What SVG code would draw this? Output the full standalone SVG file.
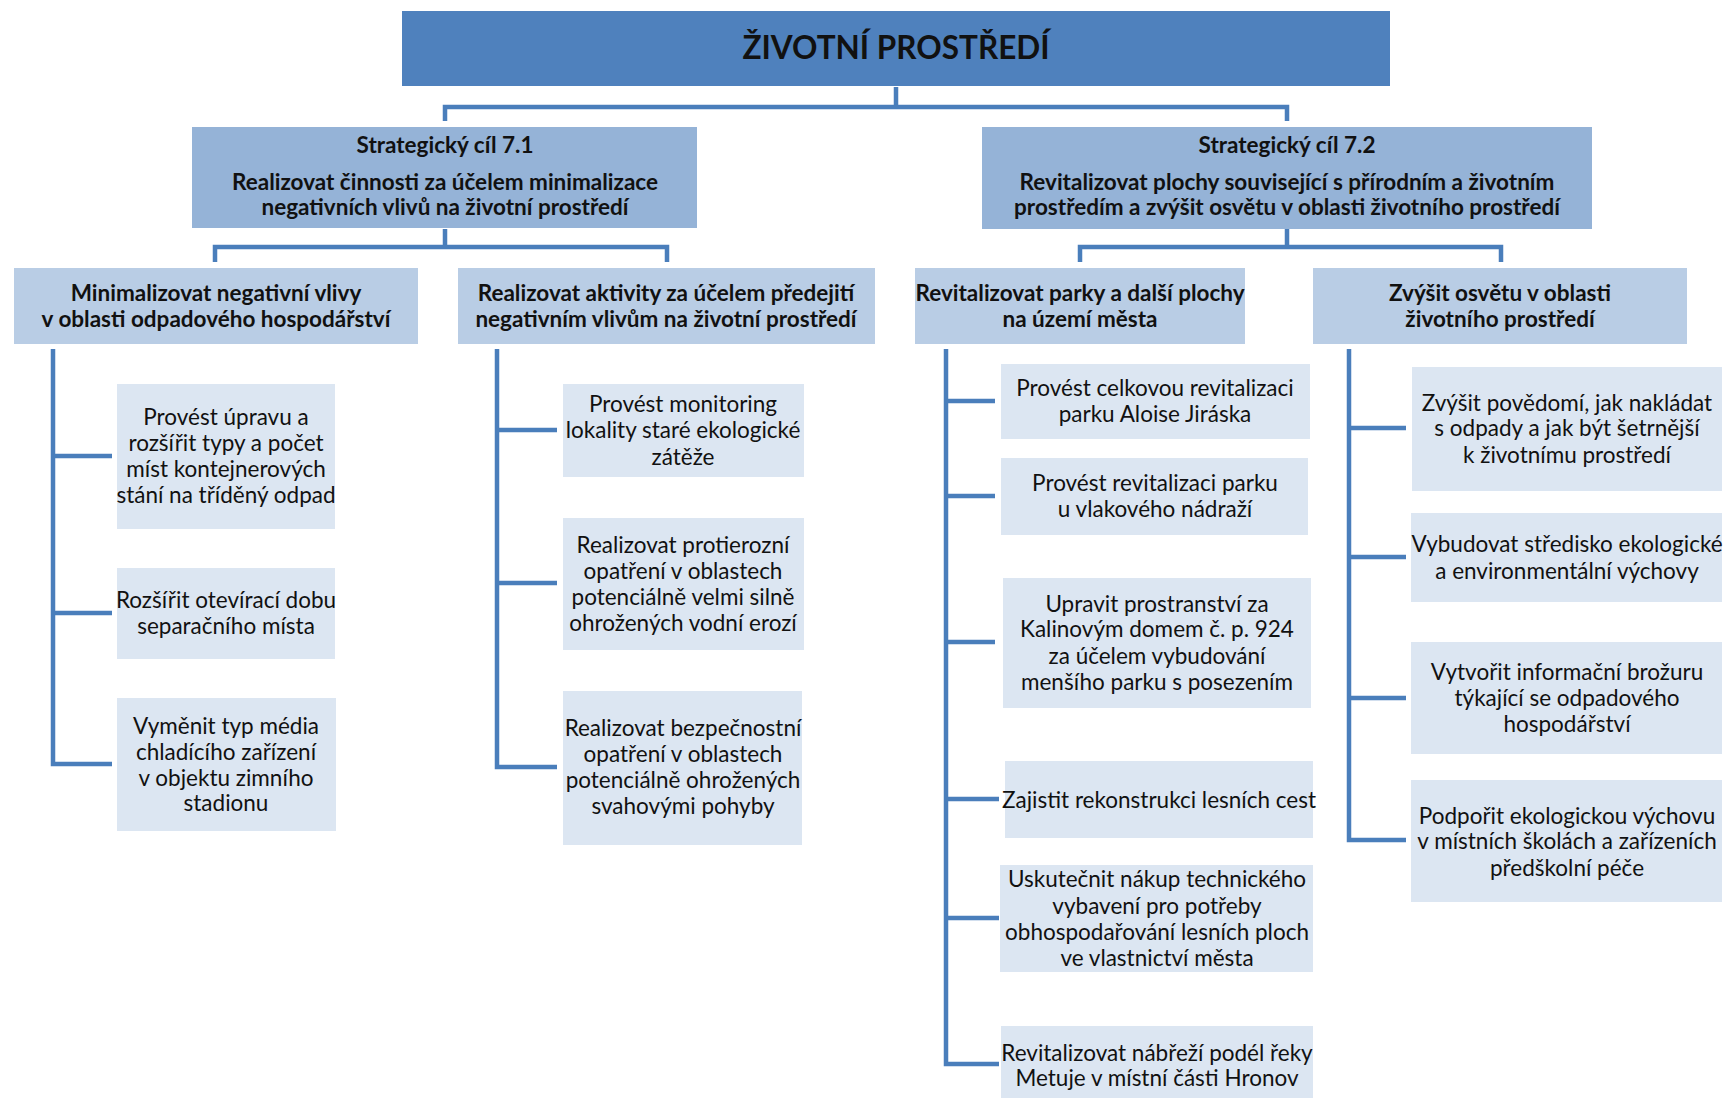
<svg xmlns="http://www.w3.org/2000/svg" width="1726" height="1099" viewBox="0 0 1726 1099">
<style>
text{font-family:Lato,"Liberation Sans",sans-serif;text-anchor:middle;fill:#111}
.top{fill:#4F81BD}
.sc{fill:#95B3D7}
.sub{fill:#B9CDE5}
.leaf{fill:#DCE6F2}
.t0{font-size:31.5px;font-weight:bold}
.t1{font-size:22.5px;font-weight:bold}
.t2{font-size:22.5px}
.con{fill:none;stroke:#4A7EBB;stroke-width:4.5}
</style>
<rect width="1726" height="1099" fill="#fff"/>
<g id="connectors" class="con">
<path d="M896 87V107M445 121V107H1287V121"/>
<path d="M445 229V247M215 262V247H667V262"/>
<path d="M1287 229V247M1080 262V247H1501V262"/>
<path d="M53 349V764H112M53 456H112M53 613H112"/>
<path d="M497 349V767H557M497 430H557M497 583H557"/>
<path d="M946 349V1064H999M946 401H995M946 496H995M946 642H995M946 799H999M946 918H999"/>
<path d="M1349 349V840H1406M1349 428H1406M1349 557H1406M1349 698H1406"/>
</g>
<g id="n0"><rect class="top" x="402" y="11" width="988" height="75"/><text class="t0" x="896" y="59">ŽIVOTNÍ PROSTŘEDÍ</text></g>
<g id="s1"><rect class="sc" x="192" y="127" width="505" height="101"/>
<text class="t1" x="445" y="153">Strategický cíl 7.1</text>
<text class="t1" x="445" y="190">Realizovat činnosti za účelem minimalizace</text>
<text class="t1" x="445" y="215">negativních vlivů na životní prostředí</text></g>
<g id="s2"><rect class="sc" x="982" y="127" width="610" height="102"/>
<text class="t1" x="1287" y="153">Strategický cíl 7.2</text>
<text class="t1" x="1287" y="190">Revitalizovat plochy související s přírodním a životním</text>
<text class="t1" x="1287" y="215">prostředím a zvýšit osvětu v oblasti životního prostředí</text></g>
<g id="a"><rect class="sub" x="14" y="268" width="404" height="76"/>
<text class="t1" x="216" y="301">Minimalizovat negativní vlivy</text>
<text class="t1" x="216" y="327">v oblasti odpadového hospodářství</text></g>
<g id="b"><rect class="sub" x="458" y="268" width="417" height="76"/>
<text class="t1" x="666" y="301">Realizovat aktivity za účelem předejití</text>
<text class="t1" x="666" y="327">negativním vlivům na životní prostředí</text></g>
<g id="c"><rect class="sub" x="915" y="268" width="330" height="76"/>
<text class="t1" x="1080" y="301">Revitalizovat parky a další plochy</text>
<text class="t1" x="1080" y="327">na území města</text></g>
<g id="d"><rect class="sub" x="1313" y="268" width="374" height="76"/>
<text class="t1" x="1500" y="301">Zvýšit osvětu v oblasti</text>
<text class="t1" x="1500" y="327">životního prostředí</text></g>
<g id="a1"><rect class="leaf" x="117" y="384" width="218" height="145"/>
<text class="t2" x="226" y="425">Provést úpravu a</text>
<text class="t2" x="226" y="451">rozšířit typy a počet</text>
<text class="t2" x="226" y="477">míst kontejnerových</text>
<text class="t2" x="226" y="503">stání na tříděný odpad</text></g>
<g id="a2"><rect class="leaf" x="117" y="568" width="218" height="91"/>
<text class="t2" x="226" y="608">Rozšířit otevírací dobu</text>
<text class="t2" x="226" y="634">separačního místa</text></g>
<g id="a3"><rect class="leaf" x="117" y="698" width="219" height="133"/>
<text class="t2" x="226" y="734">Vyměnit typ média</text>
<text class="t2" x="226" y="760">chladícího zařízení</text>
<text class="t2" x="226" y="786">v objektu zimního</text>
<text class="t2" x="226" y="811">stadionu</text></g>
<g id="b1"><rect class="leaf" x="563" y="384" width="241" height="93"/>
<text class="t2" x="683" y="412">Provést monitoring</text>
<text class="t2" x="683" y="438">lokality staré ekologické</text>
<text class="t2" x="683" y="465">zátěže</text></g>
<g id="b2"><rect class="leaf" x="563" y="518" width="241" height="132"/>
<text class="t2" x="683" y="553">Realizovat protierozní</text>
<text class="t2" x="683" y="579">opatření v oblastech</text>
<text class="t2" x="683" y="605">potenciálně velmi silně</text>
<text class="t2" x="683" y="631">ohrožených vodní erozí</text></g>
<g id="b3"><rect class="leaf" x="563" y="691" width="239" height="154"/>
<text class="t2" x="683" y="736">Realizovat bezpečnostní</text>
<text class="t2" x="683" y="762">opatření v oblastech</text>
<text class="t2" x="683" y="788">potenciálně ohrožených</text>
<text class="t2" x="683" y="814">svahovými pohyby</text></g>
<g id="c1"><rect class="leaf" x="1001" y="364" width="309" height="75"/>
<text class="t2" x="1155" y="396">Provést celkovou revitalizaci</text>
<text class="t2" x="1155" y="422">parku Aloise Jiráska</text></g>
<g id="c2"><rect class="leaf" x="1001" y="458" width="307" height="77"/>
<text class="t2" x="1155" y="491">Provést revitalizaci parku</text>
<text class="t2" x="1155" y="517">u vlakového nádraží</text></g>
<g id="c3"><rect class="leaf" x="1003" y="578" width="308" height="130"/>
<text class="t2" x="1157" y="612">Upravit prostranství za</text>
<text class="t2" x="1157" y="637">Kalinovým domem č. p. 924</text>
<text class="t2" x="1157" y="664">za účelem vybudování</text>
<text class="t2" x="1157" y="690">menšího parku s posezením</text></g>
<g id="c4"><rect class="leaf" x="1005" y="761" width="308" height="77"/>
<text class="t2" x="1159" y="808">Zajistit rekonstrukci lesních cest</text></g>
<g id="c5"><rect class="leaf" x="1000" y="865" width="313" height="107"/>
<text class="t2" x="1157" y="887">Uskutečnit nákup technického</text>
<text class="t2" x="1157" y="914">vybavení pro potřeby</text>
<text class="t2" x="1157" y="940">obhospodařování lesních ploch</text>
<text class="t2" x="1157" y="966">ve vlastnictví města</text></g>
<g id="c6"><rect class="leaf" x="1001" y="1026" width="312" height="72"/>
<text class="t2" x="1157" y="1061">Revitalizovat nábřeží podél řeky</text>
<text class="t2" x="1157" y="1086">Metuje v místní části Hronov</text></g>
<g id="d1"><rect class="leaf" x="1412" y="367" width="310" height="124"/>
<text class="t2" x="1567" y="411">Zvýšit povědomí, jak nakládat</text>
<text class="t2" x="1567" y="436">s odpady a jak být šetrnější</text>
<text class="t2" x="1567" y="463">k životnímu prostředí</text></g>
<g id="d2"><rect class="leaf" x="1411" y="513" width="311" height="89"/>
<text class="t2" x="1567" y="552">Vybudovat středisko ekologické</text>
<text class="t2" x="1567" y="579">a environmentální výchovy</text></g>
<g id="d3"><rect class="leaf" x="1411" y="642" width="311" height="112"/>
<text class="t2" x="1567" y="680">Vytvořit informační brožuru</text>
<text class="t2" x="1567" y="706">týkající se odpadového</text>
<text class="t2" x="1567" y="732">hospodářství</text></g>
<g id="d4"><rect class="leaf" x="1411" y="780" width="311" height="122"/>
<text class="t2" x="1567" y="824">Podpořit ekologickou výchovu</text>
<text class="t2" x="1567" y="849">v místních školách a zařízeních</text>
<text class="t2" x="1567" y="876">předškolní péče</text></g>
</svg>
